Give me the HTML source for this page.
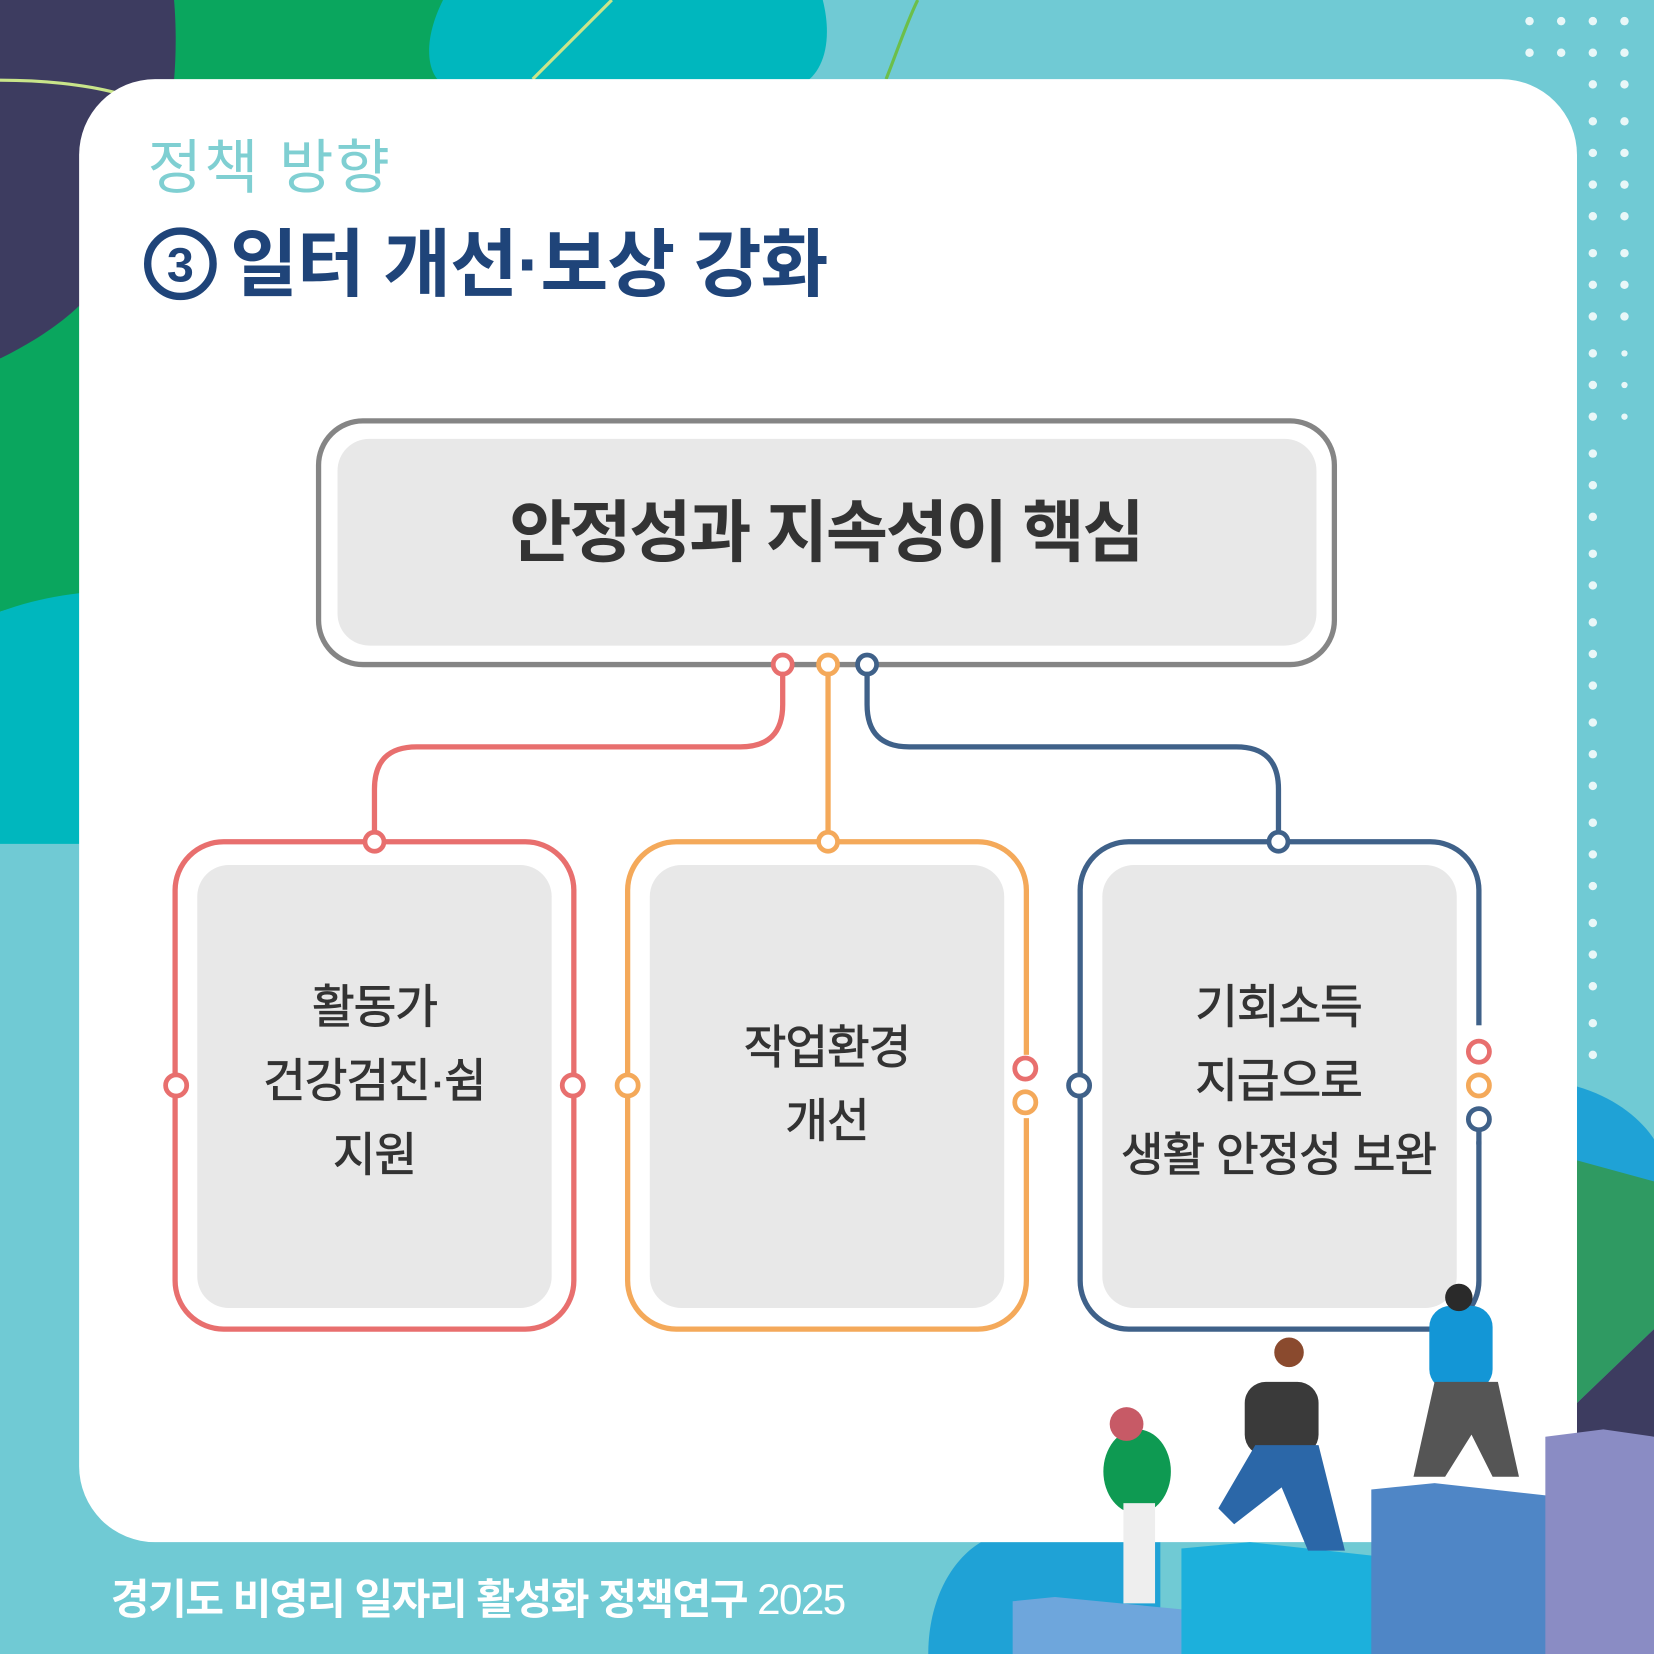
<!DOCTYPE html>
<html><head><meta charset="utf-8"><style>
html,body{margin:0;padding:0;background:#6ecad4}
svg{display:block}
text{font-family:"Liberation Sans","Noto Sans CJK KR",sans-serif}
</style></head><body>
<svg width="1654" height="1654" viewBox="0 0 1568 1568" xmlns="http://www.w3.org/2000/svg">
<rect width="1568" height="1568" fill="#70cad4"/>
<path d="M400 0 L780 0 C790 40 780 70 760 80 L400 80 Z" fill="#00b7be"/>
<path d="M160 0 L420 0 C400 40 405 70 420 80 L160 80 Z" fill="#0aa65e"/>
<path d="M0 0 L165 0 C170 60 165 150 120 230 C80 300 30 330 0 340 Z" fill="#3d3c60"/>
<path d="M0 340 C40 320 90 290 120 230 L120 560 C70 560 30 570 0 580 Z" fill="#0aa65e"/>
<path d="M0 580 C40 565 80 560 120 560 L120 800 L0 800 Z" fill="#00b7be"/>
<path d="M0 76 C40 76 80 80 110 88" stroke="#c9e58a" stroke-width="3" fill="none"/>
<path d="M505 75 L580 0" stroke="#c9e58a" stroke-width="3" fill="none"/>
<path d="M840 75 C850 50 860 20 870 0" stroke="#6cbf4a" stroke-width="3" fill="none"/>
<g fill="#ffffff" opacity="0.85">
<circle cx="1450" cy="20" r="4"/><circle cx="1480" cy="20" r="4"/><circle cx="1510" cy="20" r="4"/><circle cx="1540" cy="20" r="4"/>
<circle cx="1450" cy="50" r="4"/><circle cx="1480" cy="50" r="4"/><circle cx="1510" cy="50" r="4"/><circle cx="1540" cy="50" r="4"/>
<circle cx="1510" cy="80" r="4"/><circle cx="1540" cy="80" r="4"/>
<circle cx="1510" cy="115" r="4"/><circle cx="1540" cy="115" r="4"/><circle cx="1510" cy="145" r="4"/><circle cx="1540" cy="145" r="4"/>
<circle cx="1510" cy="175" r="4"/><circle cx="1540" cy="175" r="4"/><circle cx="1510" cy="205" r="4"/><circle cx="1540" cy="205" r="4"/>
<circle cx="1510" cy="240" r="4"/><circle cx="1540" cy="240" r="4"/><circle cx="1510" cy="270" r="4"/><circle cx="1540" cy="270" r="4"/>
<circle cx="1510" cy="300" r="4"/><circle cx="1540" cy="300" r="4"/><circle cx="1510" cy="335" r="4"/><circle cx="1540" cy="335" r="3"/>
<circle cx="1510" cy="365" r="4"/><circle cx="1540" cy="365" r="3"/><circle cx="1510" cy="395" r="4"/><circle cx="1540" cy="395" r="3"/>
<circle cx="1510" cy="430" r="4"/><circle cx="1510" cy="460" r="4"/><circle cx="1510" cy="490" r="4"/><circle cx="1510" cy="525" r="4"/>
<circle cx="1510" cy="555" r="4"/><circle cx="1510" cy="590" r="4"/><circle cx="1510" cy="620" r="4"/><circle cx="1510" cy="650" r="4"/>
<circle cx="1510" cy="685" r="4"/><circle cx="1510" cy="715" r="4"/><circle cx="1510" cy="745" r="4"/><circle cx="1510" cy="780" r="4"/>
<circle cx="1510" cy="810" r="4"/><circle cx="1510" cy="840" r="4"/><circle cx="1510" cy="875" r="4"/><circle cx="1510" cy="905" r="4"/>
<circle cx="1510" cy="935" r="4"/><circle cx="1510" cy="970" r="4"/><circle cx="1510" cy="1000" r="4"/>
</g>
<path d="M1495 1030 C1530 1040 1555 1060 1568 1080 L1568 1250 L1495 1250 Z" fill="#1fa2d6"/>
<path d="M1495 1100 L1568 1120 L1568 1260 L1495 1330 Z" fill="#2f9a62"/>
<path d="M1495 1330 L1568 1260 L1568 1568 L1495 1568 Z" fill="#3d3c60"/>
<path d="M880 1568 C880 1520 900 1480 930 1462 L1100 1462 L1100 1568 Z" fill="#1fa2d6"/>
<rect x="75" y="75" width="1420" height="1387" rx="72" fill="#ffffff"/>
<text x="140" y="178" font-size="56" fill="#7fcfd2" letter-spacing="2">정책 방향</text>
<circle cx="171" cy="250" r="31" fill="none" stroke="#1f4479" stroke-width="7"/>
<text x="171" y="267" font-size="46" font-weight="bold" fill="#1f4479" text-anchor="middle">3</text>
<text x="218" y="275" font-size="70" font-weight="bold" fill="#1f4479" letter-spacing="-1">일터 개선·보상 강화</text>
<rect x="302" y="399" width="963" height="231" rx="42" fill="#fff" stroke="#858585" stroke-width="5"/>
<rect x="320" y="416" width="928" height="196" rx="30" fill="#e8e8e8"/>
<text x="783" y="527" font-size="64" font-weight="bold" fill="#333" text-anchor="middle" letter-spacing="-2">안정성과 지속성이 핵심</text>
<path d="M742 639 L742 668 Q742 708 702 708 L395 708 Q355 708 355 748 L355 789" fill="none" stroke="#e86f6e" stroke-width="5"/>
<path d="M785 639 L785 789" fill="none" stroke="#f4a95a" stroke-width="5"/>
<path d="M822 639 L822 668 Q822 708 862 708 L1172 708 Q1212 708 1212 748 L1212 789" fill="none" stroke="#3f6189" stroke-width="5"/>
<rect x="166" y="798" width="378" height="462" rx="46" fill="#fff" stroke="#e86f6e" stroke-width="5"/>
<rect x="187" y="820" width="336" height="420" rx="30" fill="#e8e8e8"/>
<rect x="595" y="798" width="378" height="462" rx="46" fill="#fff" stroke="#f4a95a" stroke-width="5"/>
<rect x="616" y="820" width="336" height="420" rx="30" fill="#e8e8e8"/>
<rect x="1024" y="798" width="378" height="462" rx="46" fill="#fff" stroke="#3f6189" stroke-width="5"/>
<rect x="1045" y="820" width="336" height="420" rx="30" fill="#e8e8e8"/>
<rect x="967" y="1000" width="11" height="60" fill="#fff"/>
<rect x="1396" y="972" width="12" height="110" fill="#fff"/>
<g fill="#fff" stroke-width="4.5">
<circle cx="742" cy="630" r="9" stroke="#e86f6e"/>
<circle cx="785" cy="630" r="9" stroke="#f4a95a"/>
<circle cx="822" cy="630" r="9" stroke="#3f6189"/>
<circle cx="355" cy="798" r="9" stroke="#e86f6e"/>
<circle cx="785" cy="798" r="9" stroke="#f4a95a"/>
<circle cx="1212" cy="798" r="9" stroke="#3f6189"/>
<circle cx="167" cy="1029" r="10" stroke="#e86f6e"/>
<circle cx="543" cy="1029" r="10" stroke="#e86f6e"/>
<circle cx="595" cy="1029" r="10" stroke="#f4a95a"/>
<circle cx="972" cy="1013" r="10" stroke="#e86f6e"/>
<circle cx="972" cy="1045" r="10" stroke="#f4a95a"/>
<circle cx="1023" cy="1029" r="10" stroke="#3f6189"/>
<circle cx="1402" cy="997" r="10" stroke="#e86f6e"/>
<circle cx="1402" cy="1029" r="10" stroke="#f4a95a"/>
<circle cx="1402" cy="1061" r="10" stroke="#3f6189"/>
</g>
<path d="M1402 1071 L1402 1085" stroke="#3f6189" stroke-width="5"/>
<g font-size="44" fill="#333" text-anchor="middle" letter-spacing="-1" stroke="#333" stroke-width="0.8">
<text x="355" y="970">활동가</text>
<text x="355" y="1040">건강검진·쉼</text>
<text x="355" y="1110">지원</text>
<text x="784" y="1008">작업환경</text>
<text x="784" y="1078">개선</text>
<text x="1212" y="970">기회소득</text>
<text x="1212" y="1040">지급으로</text>
<text x="1212" y="1110">생활 안정성 보완</text>
</g>
<polygon points="960,1518 1000,1514 1165,1530 1165,1568 960,1568" fill="#6ea6dc"/>
<polygon points="1120,1468 1185,1462 1330,1478 1330,1568 1120,1568" fill="#1cb0dc"/>
<polygon points="1300,1412 1360,1406 1505,1422 1505,1568 1300,1568" fill="#4f86c6"/>
<polygon points="1465,1362 1520,1355 1568,1362 1568,1568 1465,1568" fill="#8a8cc4"/>
<ellipse cx="1078" cy="1395" rx="32" ry="40" fill="#0e9a52"/>
<rect x="1065" y="1425" width="30" height="95" fill="#eeeeee"/>
<circle cx="1068" cy="1350" r="16" fill="#c75a66"/>
<rect x="1180" y="1310" width="70" height="70" rx="20" fill="#3a3a3a"/>
<polygon points="1190,1370 1250,1370 1275,1470 1240,1470 1215,1410 1170,1445 1155,1430" fill="#2b67a8"/>
<circle cx="1222" cy="1282" r="14" fill="#8a4a2e"/>
<rect x="1355" y="1238" width="60" height="80" rx="20" fill="#1396d6"/>
<polygon points="1360,1310 1420,1310 1440,1400 1415,1400 1395,1360 1370,1400 1340,1400" fill="#555"/>
<circle cx="1383" cy="1230" r="13" fill="#2a2a2a"/>
<text x="105" y="1530" font-size="40" font-weight="bold" fill="#fff" letter-spacing="-1.5">경기도 비영리 일자리 활성화 정책연구 <tspan font-weight="normal">2025</tspan></text>
</svg>
</body></html>
